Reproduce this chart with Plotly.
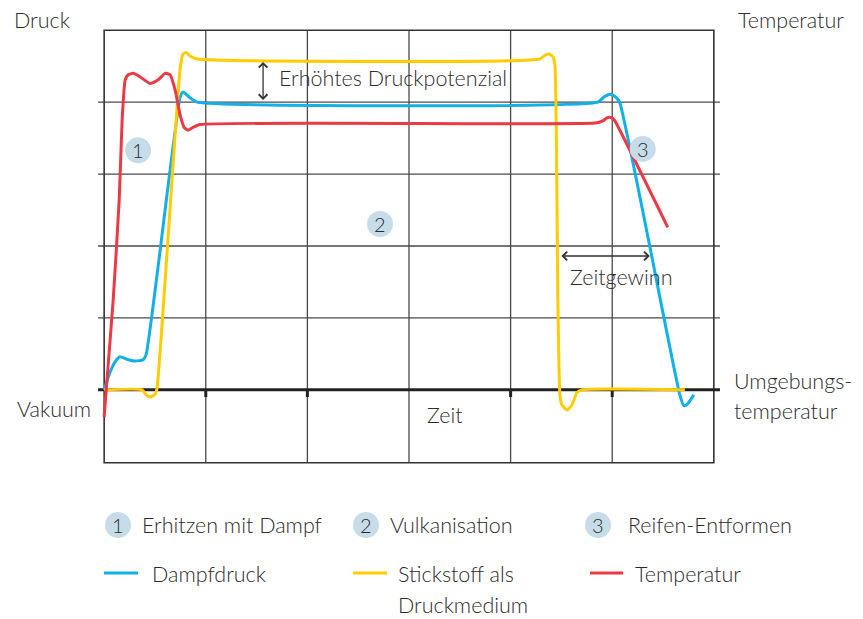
import plotly.graph_objects as go

# ---- data (time units, relative level; 0 = Vakuum / Umgebungstemperatur) ----
blue_t = [0, 0.059, 0.108, 0.157, 0.216, 0.305, 0.384, 0.413, 0.748, 0.777, 0.846, 0.915,
          4.859, 4.918, 4.977, 5.036, 5.075, 5.665, 5.705, 5.744, 5.803]
blue_v = [0, 0.25, 0.39, 0.46, 0.43, 0.40, 0.42, 0.49, 4.07, 4.14, 4.06, 4.0,
          4.0, 4.07, 4.11, 4.07, 3.99, -0.07, -0.22, -0.19, -0.07]

yellow_t = [0, 0.374, 0.413, 0.452, 0.502, 0.521, 0.748, 0.777, 0.806, 0.846, 0.915,
            4.288, 4.337, 4.377, 4.416, 4.436, 4.465, 4.485, 4.505, 4.554, 4.603, 4.652, 4.701, 5.715]
yellow_v = [0, 0, -0.07, -0.10, -0.06, 0.03, 4.47, 4.67, 4.69, 4.64, 4.60,
            4.60, 4.65, 4.67, 4.63, 4.51, 1.25, -0.07, -0.21, -0.28, -0.21, -0.04, 0, 0]

red_t = [0, 0.089, 0.148, 0.177, 0.207, 0.236, 0.285, 0.354, 0.452, 0.531, 0.600, 0.649,
         0.698, 0.748, 0.787, 0.826, 0.875, 0.944, 4.829, 4.908, 4.947, 4.977, 5.016, 5.075, 5.547]
red_v = [-0.375, 1.25, 2.64, 3.75, 4.31, 4.38, 4.40, 4.35, 4.26, 4.31, 4.40, 4.38,
         4.17, 3.82, 3.65, 3.61, 3.65, 3.69, 3.71, 3.74, 3.78, 3.79, 3.76, 3.61, 2.26]

phase_labels = ["Erhitzen mit Dampf", "Vulkanisation", "Reifen-Entformen"]
phase_t = [0.334, 2.715, 5.30]
phase_v = [3.33, 2.306, 3.35]

series_names = ["Dampfdruck", "Stickstoff als", "Temperatur"]
series_name2 = "Druckmedium"

BLUE = "#12b0e8"
YELLOW = "#ffcc00"
RED = "#ec3a44"
BADGE = "#c6dce8"
TXT = "#2c2c2c"
GRID = "#4a4a4a"
FONT = "Lato"
WT = 300
FS = 21.5

# page has an 8px body margin: figure sits at (8, 8) in the window
OX, OY = 8, 8
W_, H_ = 863 - OX, 619 - OY
PW, PH = 630, 446
L, T = 94 - OX, 23 - OY
R, B = W_ - L - PW, H_ - T - PH


def px(x):
    return (x - OX - L) / PW


def py(y):
    return (H_ - B - (y - OY)) / PH


def fnt(size=FS):
    return dict(size=size, color=TXT, family=FONT, weight=WT)


fig = go.Figure()
for t, v, c, n in [(blue_t, blue_v, BLUE, "Dampfdruck"),
                   (yellow_t, yellow_v, YELLOW, "Stickstoff"),
                   (red_t, red_v, RED, "Temperatur")]:
    fig.add_trace(go.Scatter(x=t, y=v, mode="lines", name=n, showlegend=False,
                             line=dict(color=c, width=3, shape="spline", smoothing=0.5),
                             hoverinfo="skip"))

shapes = []
# grid
for gx in range(1, 6):
    shapes.append(dict(type="line", xref="x", yref="y", x0=gx, x1=gx, y0=-1.014, y1=5,
                       line=dict(color=GRID, width=1.3), layer="below"))
for gy in range(1, 5):
    shapes.append(dict(type="line", xref="x", yref="y", x0=-0.06, x1=6.06, y0=gy, y1=gy,
                       line=dict(color=GRID, width=1.3), layer="below"))
shapes.append(dict(type="rect", xref="x", yref="y", x0=0, x1=6, y0=-1.014, y1=5,
                   line=dict(color="#333", width=1.6), layer="below"))
shapes.append(dict(type="line", xref="x", yref="y", x0=-0.06, x1=6.06, y0=0, y1=0,
                   line=dict(color="#222", width=3), layer="below"))
for tx in [1, 2, 4, 5]:
    shapes.append(dict(type="line", xref="x", yref="y", x0=tx, x1=tx, y0=0, y1=-0.1,
                       line=dict(color="#222", width=3), layer="below"))

annotations = []
# in-plot badges
for i, (t, v) in enumerate(zip(phase_t, phase_v)):
    shapes.append(dict(type="circle", xref="x", yref="y", xsizemode="pixel", ysizemode="pixel",
                       xanchor=t, yanchor=v, x0=-13, x1=13, y0=-13, y1=13,
                       fillcolor=BADGE, line=dict(width=0), layer="above"))
    annotations.append(dict(x=t, y=v, xref="x", yref="y", text=str(i + 1), showarrow=False,
                            xanchor="center", yanchor="middle", font=fnt(20)))

# arrows
annotations.append(dict(x=1.564, y=4.03, ax=1.564, ay=4.58, xref="x", yref="y", axref="x", ayref="y",
                        text="", showarrow=True, arrowhead=4, arrowside="end+start",
                        arrowsize=1.3, arrowwidth=1.3, arrowcolor="#333"))
annotations.append(dict(x=5.37, y=1.861, ax=4.485, ay=1.861, xref="x", yref="y", axref="x", ayref="y",
                        text="", showarrow=True, arrowhead=4, arrowside="end+start",
                        arrowsize=1.3, arrowwidth=1.3, arrowcolor="#333"))
annotations.append(dict(x=1.70, y=4.33, xref="x", yref="y", text="Erhöhtes Druckpotenzial",
                        xanchor="left", yanchor="middle", showarrow=False, font=fnt()))
annotations.append(dict(x=5.085, y=1.57, xref="x", yref="y", text="Zeitgewinn",
                        xanchor="center", yanchor="middle", showarrow=False, font=fnt()))
annotations.append(dict(x=3.354, y=-0.35, xref="x", yref="y", text="Zeit",
                        xanchor="center", yanchor="middle", showarrow=False, font=fnt()))


# outer labels
def lab(x, y, text, anchor="left", yanchor="middle"):
    annotations.append(dict(x=px(x), y=py(y), xref="paper", yref="paper", text=text,
                            xanchor=anchor, yanchor=yanchor, showarrow=False, align="left",
                            font=fnt()))


lab(12, 20, "Druck")
lab(736, 20, "Temperatur")
lab(15, 409, "Vakuum")
lab(732, 381, "Umgebungs-")
lab(732, 411, "temperatur")

# legend: phases
badge_x = [118, 366, 598]
label_x = [140, 388, 626]
for i in range(3):
    shapes.append(dict(type="circle", xref="paper", yref="paper", xsizemode="pixel", ysizemode="pixel",
                       xanchor=px(badge_x[i]), yanchor=py(525), x0=-13, x1=13, y0=-13, y1=13,
                       fillcolor=BADGE, line=dict(width=0)))
    annotations.append(dict(x=px(badge_x[i]), y=py(525), xref="paper", yref="paper", text=str(i + 1),
                            xanchor="center", yanchor="middle", showarrow=False, font=fnt(20)))
    lab(label_x[i], 525, phase_labels[i])

# legend: series
line_x = [(104, 138), (353, 387), (590, 623)]
text_x = [150, 396, 633]
cols = [BLUE, YELLOW, RED]
for i in range(3):
    shapes.append(dict(type="line", xref="paper", yref="paper", x0=px(line_x[i][0]), x1=px(line_x[i][1]),
                       y0=py(573), y1=py(573), line=dict(color=cols[i], width=3)))
    lab(text_x[i], 574, series_names[i])
lab(text_x[1], 605, series_name2)

fig.update_layout(
    width=W_, height=H_,
    margin=dict(l=L, r=R, t=T, b=B),
    paper_bgcolor="white", plot_bgcolor="white",
    xaxis=dict(range=[-0.1, 6.1], visible=False, showgrid=False, zeroline=False),
    yaxis=dict(range=[-1.1, 5.1], visible=False, showgrid=False, zeroline=False),
    shapes=shapes, annotations=annotations,
    font=dict(family=FONT, color=TXT),
    showlegend=False,
)

fig.write_html("out.html")
